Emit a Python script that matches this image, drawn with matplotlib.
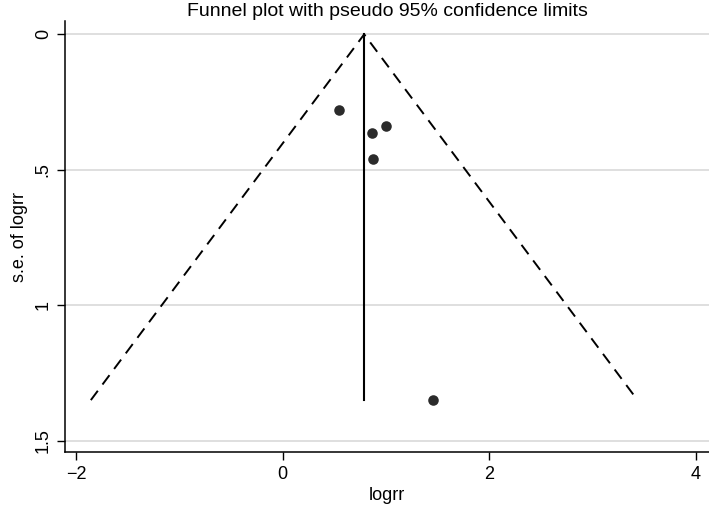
import numpy as np
import matplotlib.pyplot as plt

plt.rcParams['font.family'] = ['Liberation Sans', 'DejaVu Sans']

# study estimates (log relative risk) and their standard errors
logrr = [0.545, 0.862, 0.997, 0.871, 1.458]
se_logrr = [0.279, 0.365, 0.337, 0.461, 1.350]

xticks = [-2, 0, 2, 4]
yticks = [0, 0.5, 1, 1.5]
ytick_labels = ['0', '.5', '1', '1.5']

# fixed-effect pooled estimate
w = 1 / np.array(se_logrr) ** 2
pooled = np.sum(w * np.array(logrr)) / np.sum(w)
se_max = max(se_logrr)

fig = plt.figure(figsize=(7.09, 5.08), dpi=100)
ax = fig.add_axes([0.0917, 0.110, 0.9083, 0.848])

ax.grid(axis='y', color='#d9d9d9', linewidth=1.2)
ax.set_axisbelow(True)

# pseudo 95% limits
ax.plot([pooled - 1.96 * se_max, pooled, pooled + 1.96 * se_max], [se_max, 0, se_max],
        color='black', linestyle=(0, (6, 4)), linewidth=1.4)
ax.plot([pooled, pooled], [0, se_max], color='black', linewidth=1.5)

ax.plot(logrr, se_logrr, 'o', color='#2b2b2b', markersize=7.6, markeredgewidth=0)

ax.set_xlim(-2.107, 4.127)
ax.set_ylim(1.542, -0.048)
ax.set_xticks(xticks)
ax.set_xticklabels(['\u22122', '0', '2', '4'])
ax.set_yticks(yticks)
ax.set_yticklabels(ytick_labels, rotation=90, va='center')
ax.tick_params(axis='both', direction='out', length=6, width=1, labelsize=13, color='black')
ax.tick_params(axis='x', pad=4)

for s in ['top', 'right']:
    ax.spines[s].set_visible(False)
for s in ['left', 'bottom']:
    ax.spines[s].set_linewidth(1.1)

ax.set_xlabel('logrr', fontsize=13, labelpad=3)
ax.set_ylabel('s.e. of logrr', fontsize=13, labelpad=5)
fig.text(387 / 709, 1 - 11 / 508, 'Funnel plot with pseudo 95% confidence limits',
         ha='center', va='center', fontsize=14)

fig.savefig('out.png', dpi=100)
